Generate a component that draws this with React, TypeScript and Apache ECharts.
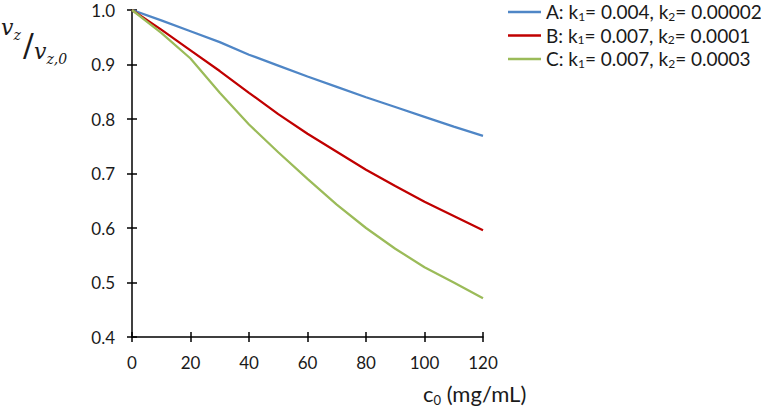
import React, { useEffect, useRef } from "react";
import * as echarts from "echarts";

const concentrations = [0, 10, 20, 30, 40, 50, 60, 70, 80, 90, 100, 110, 120];
const seriesA = [1.0, 0.981, 0.961, 0.941, 0.918, 0.898, 0.878, 0.859, 0.84, 0.822, 0.804, 0.786, 0.769];
const seriesB = [1.0, 0.964, 0.926, 0.888, 0.848, 0.809, 0.773, 0.74, 0.707, 0.677, 0.648, 0.622, 0.596];
const seriesC = [1.0, 0.958, 0.911, 0.848, 0.79, 0.739, 0.69, 0.643, 0.6, 0.562, 0.528, 0.5, 0.471];
const seriesNames = ["A", "B", "C"];
const k1Values = ["0.004", "0.007", "0.007"];
const k2Values = ["0.00002", "0.0001", "0.0003"];
const seriesColors = ["#4F86C6", "#C00000", "#9BBB59"];
const xTicks = { min: 0, max: 120, interval: 20 };
const yTicks = { min: 0.4, max: 1.0, interval: 0.1 };

const FONT = "Lato";
const TEXT = "#1a1a1a";

export default function App() {
  const ref = useRef<HTMLDivElement>(null);

  useEffect(() => {
    if (!ref.current) return;
    const chart = echarts.init(ref.current, null, { renderer: "svg" });
    const allSeries = [seriesA, seriesB, seriesC];

    const axisLine = { show: true, lineStyle: { color: "#000", width: 1.5 } };
    const tickLine = { color: "#000", width: 1.5 };

    const mathRich = {
      m: { fontFamily: "DejaVu Serif", fontStyle: "italic", fontSize: 22, fill: TEXT, lineHeight: 26, verticalAlign: "top" },
      s: { fontFamily: "DejaVu Serif", fontStyle: "italic", fontSize: 14, fill: TEXT, lineHeight: 16, verticalAlign: "bottom" },
    };

    const option: any = {
      animation: false,
      backgroundColor: "#fff",
      grid: { left: 132, right: 278, top: 10, bottom: 70, containLabel: false },
      xAxis: [
        {
          type: "value",
          position: "bottom",
          min: xTicks.min,
          max: xTicks.max,
          interval: xTicks.interval,
          axisLine,
          axisTick: { show: true, inside: false, length: 5, lineStyle: tickLine },
          axisLabel: { color: TEXT, fontFamily: FONT, fontSize: 17, margin: 17 },
          splitLine: { show: false },
        },
        {
          type: "value",
          position: "bottom",
          min: xTicks.min,
          max: xTicks.max,
          interval: xTicks.interval,
          axisLine: { show: false },
          axisTick: { show: true, inside: true, length: 5, lineStyle: tickLine },
          axisLabel: { show: false },
          splitLine: { show: false },
        },
      ],
      yAxis: [
        {
          type: "value",
          position: "left",
          min: yTicks.min,
          max: yTicks.max,
          interval: yTicks.interval,
          axisLine,
          axisTick: { show: true, inside: false, length: 5, lineStyle: tickLine },
          axisLabel: {
            color: TEXT,
            fontFamily: FONT,
            fontSize: 17,
            margin: 17,
            formatter: (v: number) => v.toFixed(1),
          },
          splitLine: { show: false },
        },
        {
          type: "value",
          position: "left",
          min: yTicks.min,
          max: yTicks.max,
          interval: yTicks.interval,
          axisLine: { show: false },
          axisTick: { show: true, inside: true, length: 5, lineStyle: tickLine },
          axisLabel: { show: false },
          splitLine: { show: false },
        },
      ],
      legend: {
        orient: "vertical",
        left: 508,
        top: 2,
        padding: 0,
        itemWidth: 33,
        itemHeight: 2.5,
        itemGap: 3.5,
        icon: "rect",
        data: seriesNames,
        formatter: (name: string) => {
          const i = seriesNames.indexOf(name);
          return `{m|${name}: k}{s|1}{m|= ${k1Values[i]}, k}{s|2}{m|= ${k2Values[i]}}`;
        },
        textStyle: {
          color: TEXT,
          fontFamily: FONT,
          fontSize: 19,
          rich: {
            m: { fontFamily: FONT, fontSize: 19, color: TEXT, lineHeight: 20, verticalAlign: "top" },
            s: { fontFamily: FONT, fontSize: 12, color: TEXT, lineHeight: 13, verticalAlign: "bottom" },
          },
        },
      },
      series: allSeries.map((vals, i) => ({
        type: "line",
        name: seriesNames[i],
        xAxisIndex: 0,
        yAxisIndex: 0,
        data: concentrations.map((c, j) => [c, vals[j]]),
        showSymbol: false,
        symbol: "none",
        smooth: false,
        lineStyle: { color: seriesColors[i], width: 2.25 },
        itemStyle: { color: seriesColors[i] },
      })),
      graphic: [
        {
          type: "text",
          left: 423,
          top: 382,
          style: {
            text: "{m|c}{s|0}{m| (mg/mL)}",
            fill: TEXT,
            rich: {
              m: { fontFamily: FONT, fontSize: 22, fill: TEXT, lineHeight: 24, verticalAlign: "top" },
              s: { fontFamily: FONT, fontSize: 13, fill: TEXT, lineHeight: 14, verticalAlign: "bottom" },
            },
          },
        },
        {
          type: "text",
          left: 1,
          top: 16,
          style: { text: "{m|v}{s|z}", rich: mathRich },
        },
        {
          type: "text",
          left: 23,
          top: 29,
          style: {
            text: "/",
            font: "32px 'DejaVu Serif'",
            fill: TEXT,
          },
        },
        {
          type: "text",
          left: 34,
          top: 40,
          style: { text: "{m|v}{s|z,0}", rich: mathRich },
        },
      ],
    };

    chart.setOption(option);
    return () => chart.dispose();
  }, []);

  return (
    <div
      ref={ref}
      style={{ position: "fixed", left: 0, top: 0, width: 761, height: 407, background: "#fff" }}
    />
  );
}
